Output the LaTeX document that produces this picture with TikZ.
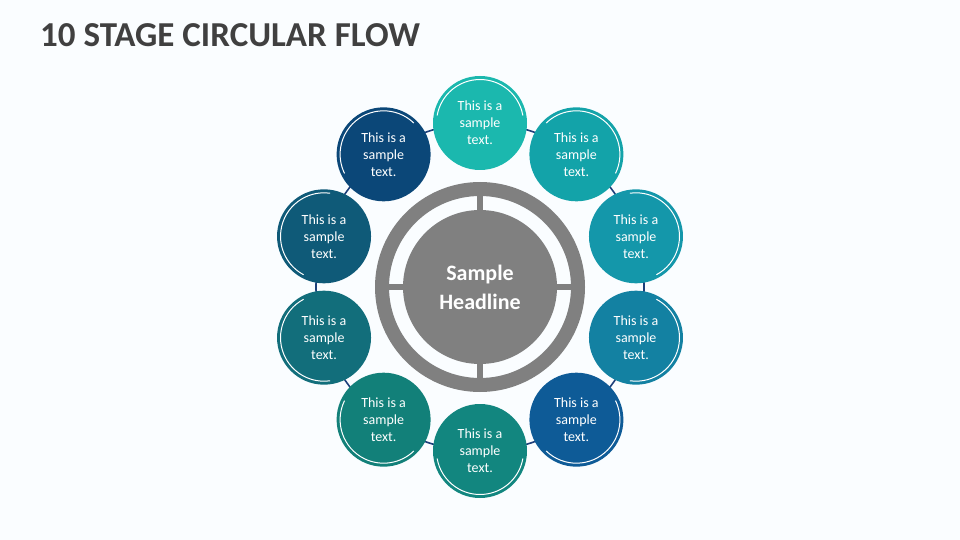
\documentclass[tikz,border=0pt]{standalone}
\usepackage{fontspec}
\setmainfont{Carlito}
\usetikzlibrary{calc}
\begin{document}
\begin{tikzpicture}[x=1pt,y=1pt,
  stage/.style={circle,minimum size=92pt,inner sep=0pt,text=white,align=center,font=\fontsize{14}{17}\selectfont}]
\fill[cyan!2!white] (0,0) rectangle (960,-540);
\useasboundingbox (0,0) rectangle (960,-540);
\node[anchor=west,inner sep=0pt,font=\bfseries\fontsize{35}{38}\selectfont,text=black!75] (title) at (40,-35) {10 STAGE CIRCULAR FLOW};
\coordinate (c) at (480,-287);
\definecolor{navy}{HTML}{1D3F7A}
\draw[navy,line width=1.6pt] (c) circle (164);
\def\cols{{"1BB8AE","13A3A9","1497AA","1381A2","0E5B97","12867F","128079","126E7B","0F5A78","0B4778"}}
\foreach \i in {0,...,9}{
  \pgfmathsetmacro\ang{90-36*\i}
  \pgfmathparse{\cols[\i]}\edef\hx{\pgfmathresult}
  \definecolor{cc}{HTML}{\hx}
  \fill[cc] ($(c)+(\ang:164)$) circle (47);
  \draw[white,line width=1pt] ($(c)+(\ang:164)+(\ang-80:43.5)$) arc[start angle=\ang-80,end angle=\ang+80,radius=43.5];
  \node[stage] (s\i) at ($(c)+(\ang:164)$) {This is a\\sample\\text.};
}
\fill[black!50,even odd rule] (c) circle (105) circle (91);
\fill[black!50] (c) circle (77);
\foreach \a in {0,90,180,270}
  \fill[black!50,rotate around={\a:(c)}] ($(c)+(76,-3)$) rectangle ($(c)+(92,3)$);
\node[text=white,align=center,font=\bfseries\fontsize{22}{29}\selectfont] (h) at (c) {Sample\\Headline};
\end{tikzpicture}
\end{document}
